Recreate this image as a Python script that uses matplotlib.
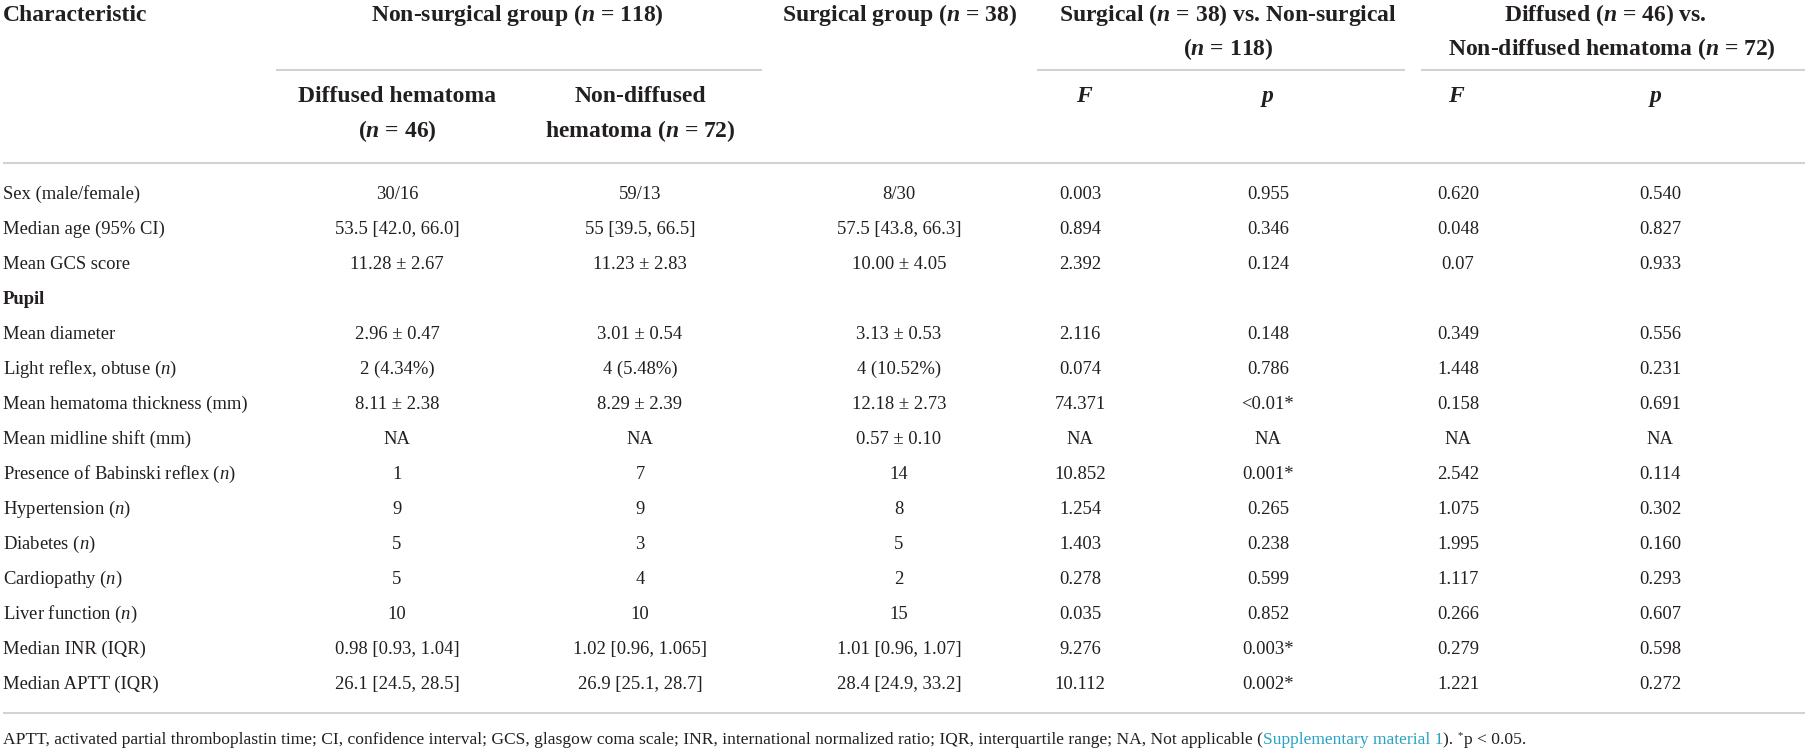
import matplotlib
matplotlib.use("Agg")
import matplotlib.pyplot as plt

plt.rcParams['font.family'] = ['Liberation Serif', 'DejaVu Serif']
plt.rcParams['mathtext.fontset'] = 'custom'
plt.rcParams['mathtext.rm'] = 'Liberation Serif'
plt.rcParams['mathtext.it'] = 'Liberation Serif:italic'
plt.rcParams['mathtext.bf'] = 'Liberation Serif:bold'
plt.rcParams['mathtext.bfit'] = 'Liberation Serif:italic:bold'

# table data
characteristics = ["Sex (male/female)", "Median age (95% CI)", "Mean GCS score", "Pupil",
                   "Mean diameter", "Light reflex, obtuse ($n$)", "Mean hematoma thickness (mm)",
                   "Mean midline shift (mm)", "Presence of Babinski reflex ($n$)", "Hypertension ($n$)",
                   "Diabetes ($n$)", "Cardiopathy ($n$)", "Liver function ($n$)",
                   "Median INR (IQR)", "Median APTT (IQR)"]
diffused = ["30/16", "53.5 [42.0, 66.0]", "11.28 ± 2.67", "", "2.96 ± 0.47", "2 (4.34%)",
            "8.11 ± 2.38", "NA", "1", "9", "5", "5", "10", "0.98 [0.93, 1.04]", "26.1 [24.5, 28.5]"]
non_diffused = ["59/13", "55 [39.5, 66.5]", "11.23 ± 2.83", "", "3.01 ± 0.54", "4 (5.48%)",
                "8.29 ± 2.39", "NA", "7", "9", "3", "4", "10", "1.02 [0.96, 1.065]", "26.9 [25.1, 28.7]"]
surgical = ["8/30", "57.5 [43.8, 66.3]", "10.00 ± 4.05", "", "3.13 ± 0.53", "4 (10.52%)",
            "12.18 ± 2.73", "0.57 ± 0.10", "14", "8", "5", "2", "15", "1.01 [0.96, 1.07]", "28.4 [24.9, 33.2]"]
f_surg = ["0.003", "0.894", "2.392", "", "2.116", "0.074", "74.371", "NA", "10.852", "1.254",
          "1.403", "0.278", "0.035", "9.276", "10.112"]
p_surg = ["0.955", "0.346", "0.124", "", "0.148", "0.786", "<0.01*", "NA", "0.001*", "0.265",
          "0.238", "0.599", "0.852", "0.003*", "0.002*"]
f_diff = ["0.620", "0.048", "0.07", "", "0.349", "1.448", "0.158", "NA", "2.542", "1.075",
          "1.995", "1.117", "0.266", "0.279", "1.221"]
p_diff = ["0.540", "0.827", "0.933", "", "0.556", "0.231", "0.691", "NA", "0.114", "0.302",
          "0.160", "0.293", "0.607", "0.598", "0.272"]
bold_rows = ["Pupil"]

footnote = [("APTT, activated partial thromboplastin time; CI, confidence interval; GCS, glasgow coma "
             "scale; INR, international normalized ratio; IQR, interquartile range; NA, Not applicable (", "txt"),
            ("Supplementary material 1", "link"), ("). ", "txt"), ("*", "sup"), ("p < 0.05.", "txt")]

TXT = "#231f20"
LINK = "#27a3c4"
RULE = "#d2d2d2"

fig = plt.figure(figsize=(18.08, 7.5), dpi=100)
ax = fig.add_axes([0, 0, 1, 1])
ax.set_xlim(0, 1808)
ax.set_ylim(750, 0)
ax.axis("off")

HS = 17     # header font size
BS = 13.4   # body font size

# header, first level (baselines)
hdr = dict(fontsize=HS, fontweight="bold", color=TXT, va="baseline")
ax.text(3, 21, "Characteristic", ha="left", **hdr)
ax.text(517, 21, r"Non-surgical group ($\mathbfit{n}$ = 118)", ha="center", **hdr)
ax.text(899, 21, r"Surgical group ($\mathbfit{n}$ = 38)", ha="center", **hdr)
ax.text(1228, 21, r"Surgical ($\mathbfit{n}$ = 38) vs. Non-surgical", ha="center", **hdr)
ax.text(1228, 55, r"($\mathbfit{n}$ = 118)", ha="center", **hdr)
ax.text(1605, 21, r"Diffused ($\mathbfit{n}$ = 46) vs.", ha="center", **hdr)
ax.text(1612, 55, r"Non-diffused hematoma ($\mathbfit{n}$ = 72)", ha="center", **hdr)

# partial rules under group headers
for x0, x1 in [(276, 762), (1037, 1405), (1421, 1805)]:
    ax.plot([x0, x1], [70, 70], color=RULE, lw=1.5, solid_capstyle="butt")

# header, second level
ax.text(397, 102, "Diffused hematoma", ha="center", **hdr)
ax.text(397, 137, r"($\mathbfit{n}$ = 46)", ha="center", **hdr)
ax.text(640, 102, "Non-diffused", ha="center", **hdr)
ax.text(640, 137, r"hematoma ($\mathbfit{n}$ = 72)", ha="center", **hdr)
for xc, lab in [(1084, "F"), (1268, "p"), (1456, "F"), (1656, "p")]:
    ax.text(xc, 102, lab, ha="center", fontstyle="italic", **hdr)

ax.plot([3, 1805], [163, 163], color=RULE, lw=1.5, solid_capstyle="butt")

# body rows
cols = [diffused, non_diffused, surgical, f_surg, p_surg, f_diff, p_diff]
col_x = [397, 640, 899, 1080, 1268, 1458, 1660]
for i, name in enumerate(characteristics):
    y = 199 + 35 * i
    ax.text(3, y, name, ha="left", va="baseline", fontsize=BS, color=TXT,
            fontweight="bold" if name in bold_rows else "normal")
    for xc, col in zip(col_x, cols):
        if col[i]:
            ax.text(xc, y, col[i], ha="center", va="baseline", fontsize=BS, color=TXT)

ax.plot([3, 1805], [713, 713], color=RULE, lw=1.5, solid_capstyle="butt")

# footnote, drawn piece by piece
fig.canvas.draw()
renderer = fig.canvas.get_renderer()
x = 3
FS = 12.6
for s, kind in footnote:
    if kind == "sup":
        t = ax.text(x, 738, s, ha="left", va="baseline", fontsize=FS * 0.6, color=TXT)
    else:
        t = ax.text(x, 744, s, ha="left", va="baseline", fontsize=FS,
                    color=LINK if kind == "link" else TXT)
    bb = t.get_window_extent(renderer)
    x = bb.x1 + (1 if kind == "sup" else 0)

fig.savefig("out.png", dpi=100)
